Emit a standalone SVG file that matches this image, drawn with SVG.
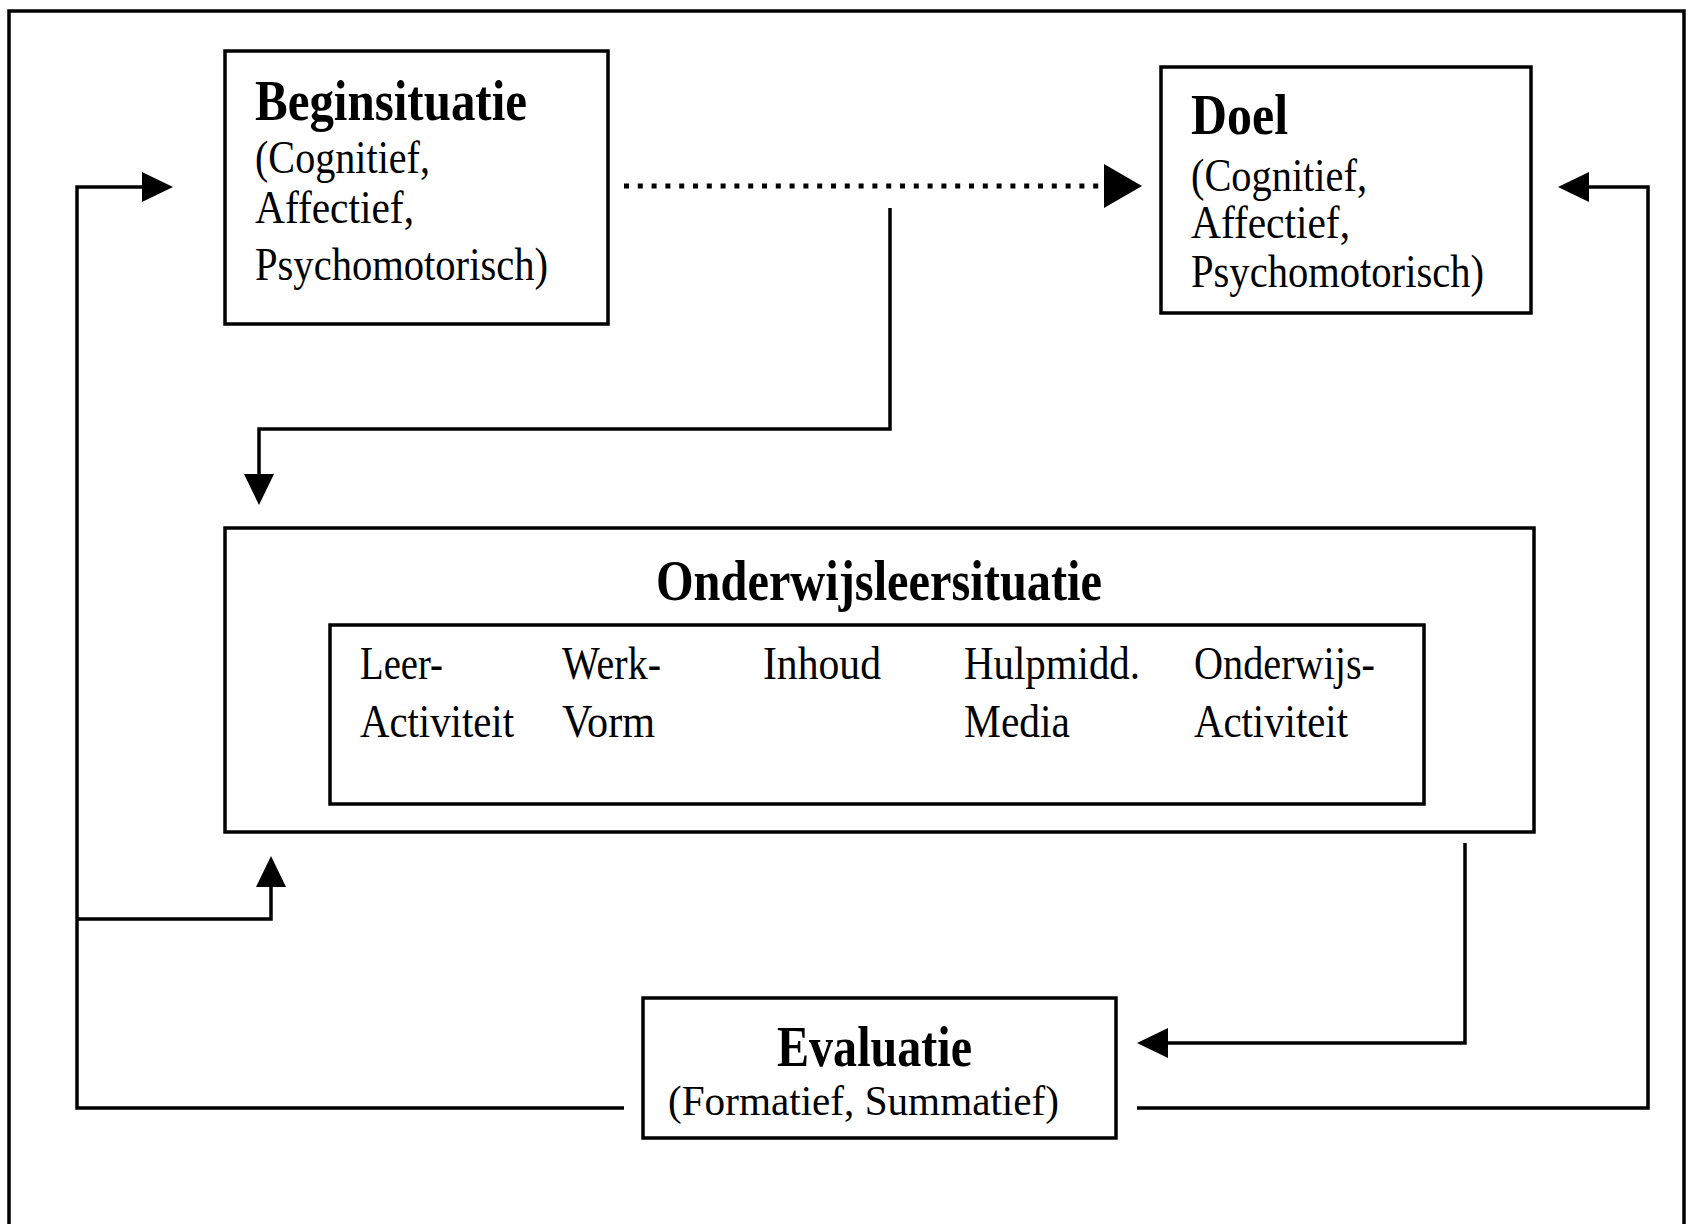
<svg xmlns="http://www.w3.org/2000/svg" width="1694" height="1224" viewBox="0 0 1694 1224">
  <style>
    .box { fill: #fff; stroke: #000; stroke-width: 3.5; }
    .frame { fill: none; stroke: #000; stroke-width: 3.5; }
    .conn { fill: none; stroke: #000; stroke-width: 3.5; }
    .dots { fill: none; stroke: #000; stroke-width: 5; stroke-dasharray: 5 8.8; }
    .t { font-family: "Liberation Serif", "Times New Roman", serif; fill: #000; }
    .title { font-size: 56px; font-weight: bold; }
    .body { font-size: 46px; }
  </style>
  <defs>
    <marker id="arrow" markerUnits="userSpaceOnUse" markerWidth="32" markerHeight="32" refX="0" refY="15" orient="auto">
      <path d="M0,0 L31,15 L0,30 Z" fill="#000"/>
    </marker>
    <marker id="arrowBig" markerUnits="userSpaceOnUse" markerWidth="40" markerHeight="46" refX="0" refY="22" orient="auto">
      <path d="M0,0 L38,22 L0,44 Z" fill="#000"/>
    </marker>
  </defs>
  <rect width="1694" height="1224" fill="#fff"/>
  <rect class="frame" x="9" y="11" width="1675" height="1300"/>

  <g id="connectors">
    <path class="dots" d="M624,186 H1104" marker-end="url(#arrowBig)"/>
    <path class="conn" d="M890,208 V429 H259 V474" marker-end="url(#arrow)"/>
    <path class="conn" d="M624,1108 H77 V187 H142" marker-end="url(#arrow)"/>
    <path class="conn" d="M77,919 H271 V887" marker-end="url(#arrow)"/>
    <path class="conn" d="M1137,1108 H1648 V187 H1589" marker-end="url(#arrow)"/>
    <path class="conn" d="M1465,843 V1043 H1168" marker-end="url(#arrow)"/>
  </g>

  <g id="beginsituatie">
    <rect class="box" x="225" y="51" width="383" height="273"/>
    <text class="t title" x="255" y="120" textLength="272" lengthAdjust="spacingAndGlyphs">Beginsituatie</text>
    <text class="t body" x="255" y="173" textLength="175" lengthAdjust="spacingAndGlyphs">(Cognitief,</text>
    <text class="t body" x="255" y="223" textLength="159" lengthAdjust="spacingAndGlyphs">Affectief,</text>
    <text class="t body" x="255" y="280" textLength="293" lengthAdjust="spacingAndGlyphs">Psychomotorisch)</text>
  </g>

  <g id="doel">
    <rect class="box" x="1161" y="67" width="370" height="246"/>
    <text class="t title" x="1191" y="134" textLength="97" lengthAdjust="spacingAndGlyphs">Doel</text>
    <text class="t body" x="1191" y="191" textLength="176" lengthAdjust="spacingAndGlyphs">(Cognitief,</text>
    <text class="t body" x="1191" y="238" textLength="159" lengthAdjust="spacingAndGlyphs">Affectief,</text>
    <text class="t body" x="1191" y="287" textLength="293" lengthAdjust="spacingAndGlyphs">Psychomotorisch)</text>
  </g>

  <g id="onderwijsleersituatie">
    <rect class="box" x="225" y="528" width="1309" height="304"/>
    <text class="t title" x="656" y="600" textLength="446" lengthAdjust="spacingAndGlyphs">Onderwijsleersituatie</text>
    <rect class="box" x="330" y="625" width="1094" height="179"/>
    <text class="t body" x="360" y="679" textLength="83" lengthAdjust="spacingAndGlyphs">Leer-</text>
    <text class="t body" x="360" y="737" textLength="154" lengthAdjust="spacingAndGlyphs">Activiteit</text>
    <text class="t body" x="562" y="679" textLength="99" lengthAdjust="spacingAndGlyphs">Werk-</text>
    <text class="t body" x="562" y="737" textLength="93" lengthAdjust="spacingAndGlyphs">Vorm</text>
    <text class="t body" x="763" y="679" textLength="118" lengthAdjust="spacingAndGlyphs">Inhoud</text>
    <text class="t body" x="964" y="679" textLength="176" lengthAdjust="spacingAndGlyphs">Hulpmidd.</text>
    <text class="t body" x="964" y="737" textLength="106" lengthAdjust="spacingAndGlyphs">Media</text>
    <text class="t body" x="1194" y="679" textLength="181" lengthAdjust="spacingAndGlyphs">Onderwijs-</text>
    <text class="t body" x="1194" y="737" textLength="154" lengthAdjust="spacingAndGlyphs">Activiteit</text>
  </g>

  <g id="evaluatie">
    <rect class="box" x="643" y="998" width="473" height="140"/>
    <text class="t title" x="777" y="1066" font-size="52" textLength="195" lengthAdjust="spacingAndGlyphs">Evaluatie</text>
    <text class="t body" x="668" y="1115" font-size="42" style="font-size:42px" textLength="391" lengthAdjust="spacingAndGlyphs">(Formatief, Summatief)</text>
  </g>
</svg>
